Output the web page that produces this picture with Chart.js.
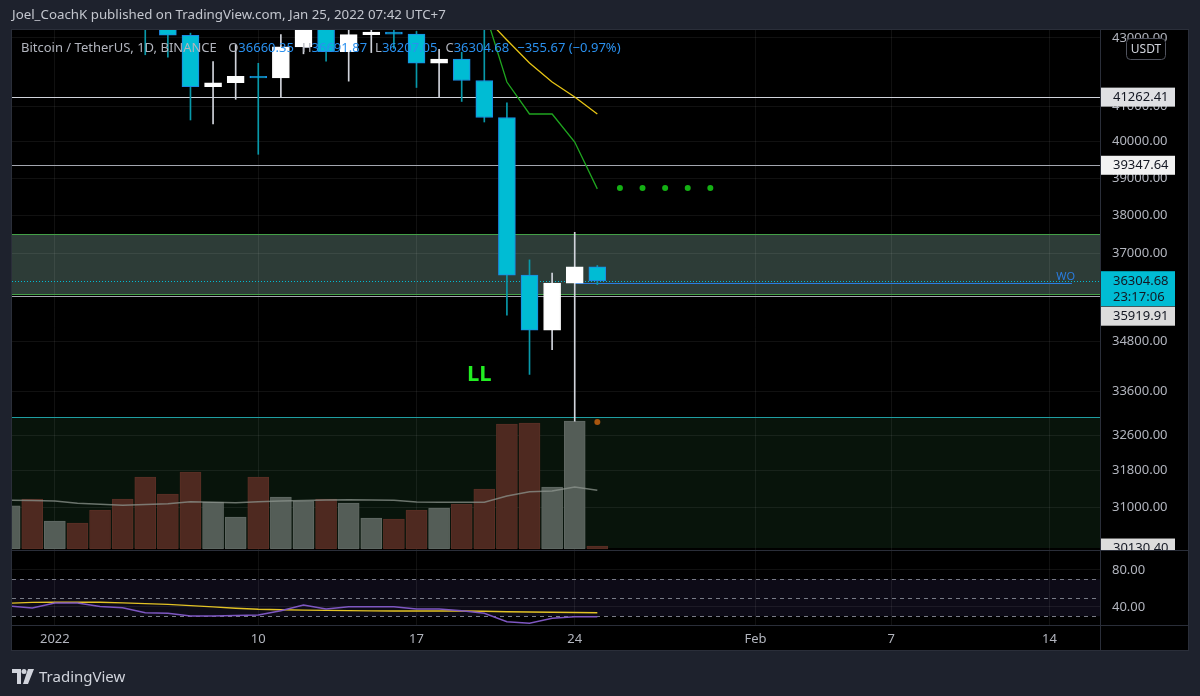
<!DOCTYPE html>
<html>
<head>
<meta charset="UTF-8">
<title>Bitcoin / TetherUS, 1D, BINANCE</title>
<script src="https://cdn.jsdelivr.net/npm/chart.js@4.4.1/dist/chart.umd.min.js"></script>
<style>
body { margin: 0; background: #1e222d; overflow: hidden; }
#wrap { position: relative; width: 1200px; height: 696px; }
#head { position: absolute; left: 12px; top: 5px; line-height: 20px; font: 13.3px "Noto Sans", sans-serif; color: #c3c6ce; white-space: nowrap; }
#legend { position: absolute; left: 21px; top: 38px; line-height: 18px; font: 13px "Noto Sans", sans-serif; color: #b2b5be; white-space: nowrap; }
#legend span { margin-right: 8px; }
#legend b { font-weight: normal; color: #2a90ee; }
#foot { position: absolute; left: 12px; top: 666px; font: 15px "Noto Sans", sans-serif; color: #d1d4dc; display: flex; align-items: center; }
#foot svg { margin-right: 5px; }
</style>
</head>
<body>
<div id="wrap">
	<canvas id="chart" width="1200" height="696"></canvas>
	<div id="head">Joel_CoachK published on TradingView.com, Jan 25, 2022 07:42 UTC+7</div>
	<div id="legend"></div>
	<div id="foot">
		<svg width="22" height="15" viewBox="0 0 22 15"><path d="M0 0h9v15H5V4H0z" fill="#d1d4dc"/><circle cx="12" cy="2.5" r="2.5" fill="#d1d4dc"/><path d="M16 0h6l-6 15h-5z" fill="#d1d4dc"/></svg>
		<span>TradingView</span>
	</div>
</div>

<script>
// daily candles, BTC/USDT (Binance)
var dates  = ['2021-12-30','2021-12-31','2022-01-01','2022-01-02','2022-01-03','2022-01-04','2022-01-05','2022-01-06','2022-01-07',
              '2022-01-08','2022-01-09','2022-01-10','2022-01-11','2022-01-12','2022-01-13','2022-01-14','2022-01-15','2022-01-16',
              '2022-01-17','2022-01-18','2022-01-19','2022-01-20','2022-01-21','2022-01-22','2022-01-23','2022-01-24','2022-01-25'];
var opens  = [46464, 47120, 46217, 47722, 47287, 46446, 45833, 43451, 43082, 41566, 41679, 41865, 41822, 42736, 43946, 42592, 43100, 43178,
              43114, 42251, 42375, 41744, 40680, 36445, 35071, 36244, 36660.35];
var highs  = [47900, 48548, 47954, 47990, 47570, 47557, 47070, 43816, 43145, 42300, 42786, 42248, 43100, 44135, 44500, 43448, 43800, 43475,
              43196, 42664, 42574, 43505, 41100, 36835, 36499, 37550, 36691.87];
var lows   = [45900, 45678, 46208, 46654, 45696, 45500, 42500, 42430, 40610, 40501, 41200, 39650, 41269, 42528, 42311, 41725, 42564, 42691,
              41541, 41250, 41138, 40553, 35440, 34008, 34601, 32917, 36207.05];
var closes = [47120, 46217, 47722, 47287, 46446, 45833, 43451, 43082, 41566, 41679, 41865, 41822, 42736, 43946, 42592, 43100, 43178, 43114,
              42251, 42375, 41744, 40680, 36445, 35071, 36244, 36660.35, 36304.68];
// volume (thousand BTC) and its moving average
var volumes = [30.2, 35.0, 19.6, 18.2, 27.3, 35.0, 50.4, 38.5, 53.9, 32.9, 22.4, 50.4, 36.4, 33.6, 35.0, 32.2, 21.7, 21.0,
               27.3, 28.7, 31.5, 42.0, 87.5, 88.2, 43.4, 89.6, 2.1];
var volMA   = [34.1, 33.9, 33.6, 32.0, 31.3, 30.6, 31.1, 31.7, 33.1, 32.8, 32.4, 33.0, 33.6, 34.0, 34.3, 34.5, 34.3, 34.1,
               32.9, 32.8, 32.8, 32.7, 37.1, 40.1, 40.6, 43.4, 41.1];
// RSI and its moving average
var rsi   = [41.1, 38.9, 44.3, 44.3, 40.5, 39.2, 33.8, 33.2, 30.3, 30.3, 30.8, 31.4, 36.0, 42.2, 37.8, 40.3, 40.3, 40.3,
             37.8, 37.8, 36.0, 33.2, 24.1, 22.4, 27.8, 29.5, 29.5];
var rsiMA = [44.0, 45.0, 45.1, 45.1, 45.1, 44.4, 43.6, 42.8, 41.5, 40.1, 38.6, 37.5, 37.0, 36.6, 36.3, 36.0, 35.8, 35.7,
             35.7, 35.7, 35.6, 35.3, 34.9, 34.6, 34.3, 34.0, 33.8];
// indicator lines on price
var lineDates  = ['2022-01-19','2022-01-20','2022-01-21','2022-01-22','2022-01-23','2022-01-24','2022-01-25'];
var greenLine  = [44900, 43860, 41700, 40780, 40780, 39990, 38705];
var yellowLine = [44300, 43650, 42940, 42257, 41702, 41266, 40781];
var dotDates   = ['2022-01-26','2022-01-27','2022-01-28','2022-01-29','2022-01-30'];
var dotValues  = [38730, 38730, 38730, 38730, 38730];
var markerDate = '2022-01-25';
var markerValue = 32900;
// drawings
var levelPrices = [41262.41, 39347.64, 35919.91];
var zoneRange   = [37500, 35960];
var volumeBox   = [33010, 30130.40];
var woLine      = {from: '2022-01-24', to: '2022-02-15', price: 36240};
var llLabel     = {date: '2022-01-20', price: 34000};
var countdown   = '23:17:06';
var rsiLevels   = [70, 50, 30];
// axes
var priceTicks = [43000, 41000, 40000, 39000, 38000, 37000, 34800, 33600, 32600, 31800, 31000];
var rsiTicks   = [40, 80];
var timeTicks  = ['2022-01-01','2022-01-10','2022-01-17','2022-01-24','2022-02-01','2022-02-07','2022-02-14'];
var timeLabels = ['2022', '10', '17', '24', 'Feb', '7', '14'];
var viewDates  = ['2021-12-30T02:30', '2022-02-16T05:45'];

var day0 = Date.parse('2022-01-01T00:00Z');
var dayOf = function(s){ return (Date.parse(s + (s.length > 10 ? 'Z' : 'T00:00Z')) - day0) / 864e5; };
var days = dates.map(dayOf);
var tickDays = timeTicks.map(dayOf);
var isUp = closes.map(function(c, i){ return c >= opens[i]; });
var last = closes.length - 1;
var pts = function(arr){ return days.map(function(d, i){ return {x: d, y: arr[i]}; }); };

// legend line
var change = closes[last] - closes[last - 1];
var minus = function(v){ return (v < 0 ? '\u2212' : '+') + Math.abs(v).toFixed(2); };
document.getElementById('legend').innerHTML =
	'<span>Bitcoin / TetherUS, 1D, BINANCE</span> ' +
	'<span>O<b>' + opens[last].toFixed(2) + '</b></span>' +
	'<span>H<b>' + highs[last].toFixed(2) + '</b></span>' +
	'<span>L<b>' + lows[last].toFixed(2) + '</b></span>' +
	'<span>C<b>' + closes[last].toFixed(2) + '</b></span>' +
	'<span><b>' + minus(change) + ' (' + minus(change / closes[last - 1] * 100) + '%)</b></span>';

var px = function(s, v){ return s.getPixelForValue(v); };

var tvPanes = {
	id: 'tvPanes',
	beforeDraw: function(chart){
		var ctx = chart.ctx, a = chart.chartArea, s = chart.scales;
		ctx.save();
		ctx.fillStyle = '#000000';
		ctx.fillRect(a.left, a.top, s.y.right - a.left, s.x.bottom - a.top);
		// zone
		var zt = px(s.y, zoneRange[0]), zb = px(s.y, zoneRange[1]);
		ctx.fillStyle = '#2d3c37';
		ctx.fillRect(a.left, zt, a.right - a.left, zb - zt);
		// volume box
		var vt = px(s.y, volumeBox[0]), vb = Math.min(px(s.y, volumeBox[1]), s.y.bottom);
		ctx.fillStyle = '#08140b';
		ctx.fillRect(a.left, vt, a.right - a.left, vb - vt);
		// rsi band
		var r1 = px(s.yr, rsiLevels[0]), r3 = px(s.yr, rsiLevels[2]);
		ctx.fillStyle = '#0d0b17';
		ctx.fillRect(a.left, r1, a.right - a.left, r3 - r1);
		ctx.restore();
	},
	beforeDatasetsDraw: function(chart){
		var ctx = chart.ctx, a = chart.chartArea, s = chart.scales;
		var hline = function(y, color, x0, x1){
			ctx.strokeStyle = color;
			ctx.beginPath();
			ctx.moveTo(x0 === undefined ? a.left : x0, Math.round(y) + 0.5);
			ctx.lineTo(x1 === undefined ? a.right : x1, Math.round(y) + 0.5);
			ctx.stroke();
		};
		ctx.save();
		ctx.lineWidth = 1;
		hline(px(s.y, zoneRange[0]), '#43a047');
		hline(px(s.y, zoneRange[1]), '#43a047');
		hline(px(s.y, volumeBox[0]), '#1f9ea3');
		var levelColors = ['#d1d4dc', '#a3a6af', '#a3a6af'];
		levelPrices.forEach(function(v, i){ hline(px(s.y, v), levelColors[i]); });
		hline(px(s.y, woLine.price), '#2a7de1', px(s.x, dayOf(woLine.from)), px(s.x, dayOf(woLine.to)));
		ctx.setLineDash([1, 2]);
		hline(px(s.y, closes[last]), '#00bcd4');
		ctx.setLineDash([4, 4]);
		rsiLevels.forEach(function(v){ hline(px(s.yr, v), '#787b86'); });
		ctx.restore();
	},
	afterDraw: function(chart){
		var ctx = chart.ctx, a = chart.chartArea, s = chart.scales, y = s.y;
		ctx.save();
		// pane separators and frame
		ctx.strokeStyle = '#2a2e39';
		ctx.lineWidth = 1;
		ctx.beginPath();
		ctx.moveTo(a.left, Math.round(y.bottom) + 0.5); ctx.lineTo(y.right, Math.round(y.bottom) + 0.5);
		ctx.moveTo(a.left, Math.round(s.x.top) + 0.5); ctx.lineTo(y.right, Math.round(s.x.top) + 0.5);
		ctx.moveTo(Math.round(a.right) + 0.5, a.top); ctx.lineTo(Math.round(a.right) + 0.5, s.x.bottom);
		ctx.stroke();
		ctx.strokeRect(a.left - 0.5, a.top - 0.5, y.right - a.left + 1, s.x.bottom - a.top + 1);

		// texts on chart
		ctx.font = 'bold 22px "Noto Sans", sans-serif';
		ctx.fillStyle = '#22ee22';
		ctx.textAlign = 'center';
		ctx.textBaseline = 'middle';
		ctx.fillText('LL', px(s.x, dayOf(llLabel.date)) - 5, px(y, llLabel.price));
		ctx.font = '11px "Noto Sans", sans-serif';
		ctx.fillStyle = '#2a7de1';
		ctx.textAlign = 'right';
		ctx.textBaseline = 'bottom';
		ctx.fillText('WO', px(s.x, dayOf(woLine.to)) + 3, px(y, woLine.price) - 1);

		// price tags
		var tagL = y.left + 1, tagW = 74, textX = y.left + 13;
		var tag = function(cy, lines, bg){
			var h = lines.length * 16 + 3;
			ctx.fillStyle = bg;
			ctx.fillRect(tagL, cy - 9.5, tagW, h);
			ctx.fillStyle = '#131722';
			ctx.font = '13px "Noto Sans", sans-serif';
			ctx.textAlign = 'left';
			ctx.textBaseline = 'middle';
			lines.forEach(function(t, i){ ctx.fillText(t, textX, cy + i * 16 + 0.5); });
			return cy - 9.5 + h;
		};
		tag(px(y, levelPrices[0]), [levelPrices[0].toFixed(2)], '#dfe0e3');
		tag(px(y, levelPrices[1]), [levelPrices[1].toFixed(2)], '#f2f2f2');
		var curBottom = tag(px(y, closes[last]), [closes[last].toFixed(2), countdown], '#00bcd4');
		tag(Math.max(px(y, levelPrices[2]), curBottom + 10), [levelPrices[2].toFixed(2)], '#dcdcdc');
		ctx.save();
		ctx.beginPath();
		ctx.rect(y.left, y.top, y.width, y.bottom - y.top);
		ctx.clip();
		tag(px(y, volumeBox[1]), [volumeBox[1].toFixed(2)], '#dcdcdc');
		ctx.restore();

		// currency badge
		var bx = y.left + 26, by = a.top + 8, bw = 39, bh = 21;
		ctx.beginPath();
		ctx.roundRect(bx + 0.5, by + 0.5, bw, bh, 4);
		ctx.fillStyle = '#000000';
		ctx.fill();
		ctx.strokeStyle = '#50535e';
		ctx.stroke();
		ctx.fillStyle = '#d1d4dc';
		ctx.font = '12px "Noto Sans", sans-serif';
		ctx.textAlign = 'center';
		ctx.textBaseline = 'middle';
		ctx.fillText('USDT', bx + bw / 2 + 0.5, by + bh / 2 + 1);
		ctx.restore();
	}
};

Chart.defaults.font.family = '"Noto Sans", sans-serif';
Chart.defaults.font.size = 13;
Chart.defaults.color = '#b2b5be';

var gridColor = 'rgba(255,255,255,0.065)';

new Chart(document.getElementById('chart'), {
	type: 'line',
	data: {
		datasets: [
			{
				type: 'bar', label: 'Volume', yAxisID: 'yv', data: pts(volumes),
				backgroundColor: isUp.map(function(u){ return u ? '#545d57' : '#4e2920'; }),
				borderColor: isUp.map(function(u){ return u ? '#616a64' : '#5a2f25'; }),
				borderWidth: 1, borderSkipped: false, barThickness: 21, grouped: false, order: 10
			},
			{
				label: 'Volume MA', yAxisID: 'yv', data: pts(volMA),
				borderColor: 'rgba(140,148,142,0.75)', borderWidth: 1.5, pointRadius: 0, order: 9
			},
			{
				type: 'bar', label: 'Wicks', yAxisID: 'y',
				data: days.map(function(d, i){ return {x: d, y: [lows[i], highs[i]]}; }),
				backgroundColor: isUp.map(function(u){ return u ? '#d1d4dc' : '#0899aa'; }),
				barThickness: 1, grouped: false, order: 6
			},
			{
				type: 'bar', label: 'Bodies', yAxisID: 'y',
				data: days.map(function(d, i){ return {x: d, y: [opens[i], closes[i]]}; }),
				backgroundColor: isUp.map(function(u){ return u ? '#ffffff' : '#00bcd4'; }),
				borderColor: isUp.map(function(u){ return u ? '#ffffff' : '#1e88e5'; }),
				borderWidth: 1, borderSkipped: false, barThickness: 17, grouped: false, order: 5
			},
			{
				label: 'Yellow', yAxisID: 'y',
				data: lineDates.map(function(d, i){ return {x: dayOf(d), y: yellowLine[i]}; }),
				borderColor: '#e6c414', borderWidth: 1.3, pointRadius: 0, order: 3
			},
			{
				label: 'Green', yAxisID: 'y',
				data: lineDates.map(function(d, i){ return {x: dayOf(d), y: greenLine[i]}; }),
				borderColor: '#1fa51f', borderWidth: 1.3, pointRadius: 0, order: 3
			},
			{
				label: 'Green dots', yAxisID: 'y', showLine: false,
				data: dotDates.map(function(d, i){ return {x: dayOf(d), y: dotValues[i]}; }),
				pointRadius: 3, pointBackgroundColor: '#14b014', pointBorderWidth: 0, order: 2
			},
			{
				label: 'Marker', yAxisID: 'y', showLine: false,
				data: [{x: dayOf(markerDate), y: markerValue}],
				pointRadius: 3, pointBackgroundColor: '#a8560f', pointBorderWidth: 0, order: 2
			},
			{
				label: 'RSI MA', yAxisID: 'yr', data: pts(rsiMA),
				borderColor: '#e3c325', borderWidth: 1.4, pointRadius: 0, order: 2
			},
			{
				label: 'RSI', yAxisID: 'yr', data: pts(rsi),
				borderColor: '#7e57c2', borderWidth: 1.5, pointRadius: 0, order: 1
			}
		]
	},
	options: {
		responsive: false,
		animation: false,
		devicePixelRatio: 1,
		layout: {padding: {left: 12, right: 12, top: 30, bottom: 46}},
		plugins: {legend: {display: false}, tooltip: {enabled: false}},
		elements: {line: {tension: 0}},
		scales: {
			x: {
				type: 'linear', offset: false,
				min: dayOf(viewDates[0]), max: dayOf(viewDates[1]),
				grid: {color: gridColor, drawTicks: false, offset: false},
				border: {display: false},
				ticks: {
					padding: 6, maxRotation: 0, autoSkip: false, color: '#b2b5be',
					callback: function(v){ var k = tickDays.indexOf(v); return k < 0 ? '' : timeLabels[k]; }
				},
				afterBuildTicks: function(sc){ sc.ticks = tickDays.map(function(v){ return {value: v}; }); },
				afterFit: function(sc){ sc.height = 25; }
			},
			y: {
				type: 'logarithmic', position: 'right', stack: 'panes', stackWeight: 520,
				min: 30089, max: 43240,
				grid: {color: gridColor, drawTicks: false},
				border: {display: false},
				ticks: {padding: 12, autoSkip: false, callback: function(v){ return Number(v).toFixed(2); }},
				afterBuildTicks: function(sc){ sc.ticks = priceTicks.map(function(v){ return {value: v}; }); },
				afterFit: function(sc){ sc.width = 88; }
			},
			yr: {
				type: 'linear', position: 'right', stack: 'panes', stackWeight: 75,
				min: 20.5, max: 101.6,
				grid: {color: gridColor, drawTicks: false},
				border: {display: false},
				ticks: {padding: 12, autoSkip: false, callback: function(v){ return Number(v).toFixed(2); }},
				afterBuildTicks: function(sc){ sc.ticks = rsiTicks.map(function(v){ return {value: v}; }); },
				afterFit: function(sc){ sc.width = 88; }
			},
			yv: {
				type: 'linear', position: 'left', display: false,
				min: -53.2, max: 363.3
			}
		}
	},
	plugins: [tvPanes]
});
</script>
</body>
</html>
